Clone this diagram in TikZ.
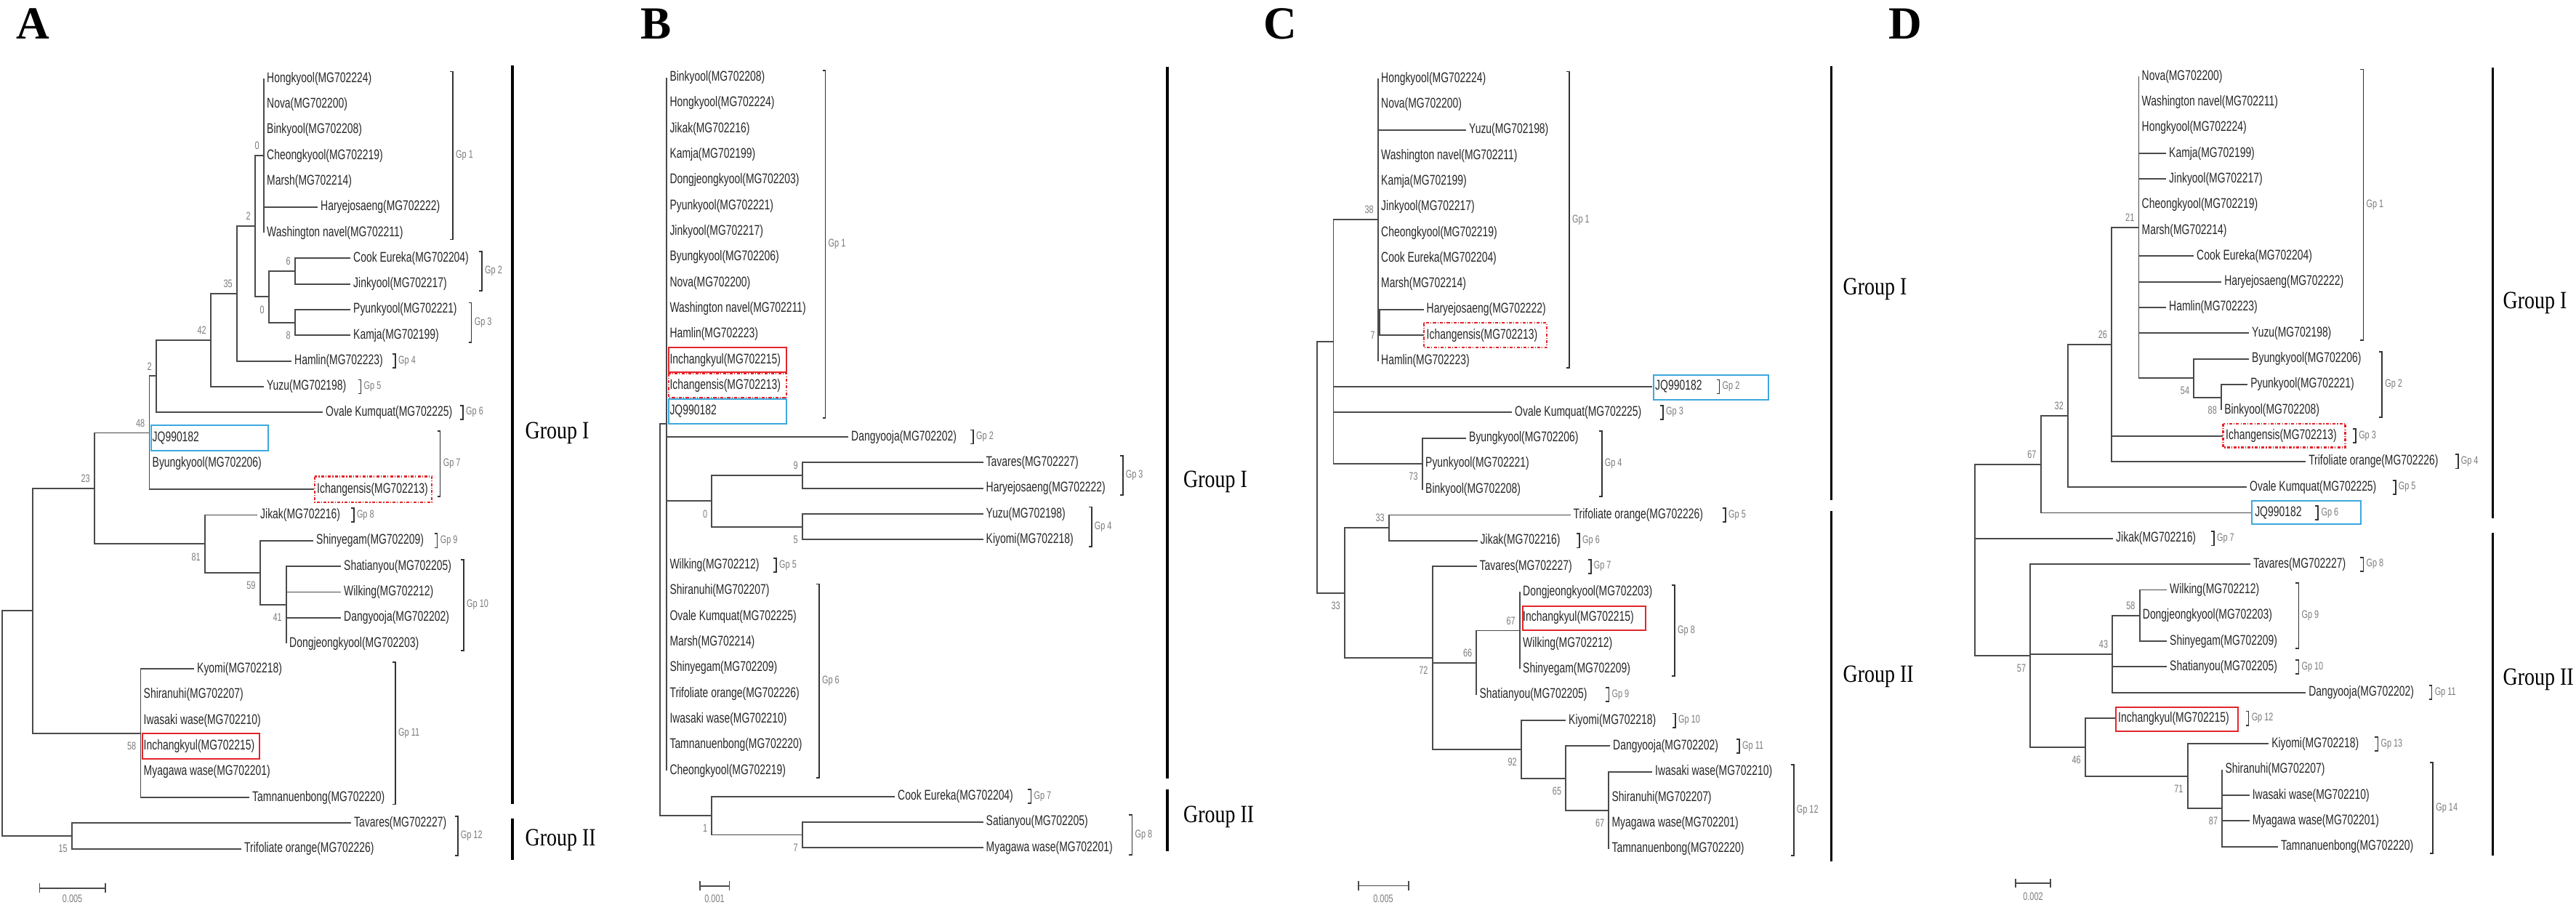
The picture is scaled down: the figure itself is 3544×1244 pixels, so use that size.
\documentclass[tikz,border=0pt]{standalone}
\usepackage{fontspec}
\newfontfamily\taxfont[FakeStretch=0.72]{Liberation Sans}
\newfontfamily\grpfont[FakeStretch=0.82]{Liberation Serif}
\newfontfamily\panelfont{Liberation Serif}
\definecolor{brgray}{HTML}{4A4A4A}
\definecolor{txgray}{HTML}{262626}
\definecolor{bsgray}{HTML}{7A7A7A}
\definecolor{brkgray}{HTML}{333333}
\definecolor{boxblue}{HTML}{3CA8DF}
\definecolor{boxred}{HTML}{E3262B}
% bracket with its Gp label: name, x, first row, last row, text
\newcommand{\gpbr}[5]{%
  \draw[brk] (#2-4,#3-.27) -- (#2,#3-.27) -- (#2,#4+.27) -- (#2-4,#4+.27);
  \node[gp] (#1) at (#2,{(#3+#4)/2}) {#5};}
\begin{document}
\begin{tikzpicture}[x=0.01cm,y=-0.01cm,
  br/.style={draw=brgray,line width=0.55pt},
  tx/.style={anchor=west,inner xsep=1pt,inner ysep=0pt,text=txgray,font=\taxfont\fontsize{5.5}{6}\selectfont},
  bs/.style={inner sep=1pt,text=bsgray,font=\taxfont\fontsize{4.3}{5}\selectfont},
  bsa/.style={bs,anchor=south east,xshift=-0.02cm,yshift=0.04cm},
  bsb/.style={bs,anchor=north east,xshift=-0.02cm,yshift=-0.08cm},
  gp/.style={anchor=west,inner sep=1pt,text=bsgray,font=\taxfont\fontsize{4.3}{5}\selectfont},
  brk/.style={draw=brkgray,line width=0.5pt},
  gline/.style={draw=black,line width=1pt},
  grp/.style={anchor=west,inner sep=0pt,font=\grpfont\fontsize{9.7}{11}\selectfont},
  panel/.style={inner sep=0pt,font=\panelfont\bfseries\fontsize{18}{20}\selectfont},
  redbox/.style={draw=boxred,line width=0.6pt},
  bluebox/.style={draw=boxblue,line width=0.6pt},
  dashbox/.style={draw=boxred,line width=0.6pt,dash pattern=on 1.2pt off 0.6pt on 0.3pt off 0.6pt},
  scb/.style={draw=brgray,line width=0.5pt},
  scl/.style={inner sep=0pt,text=bsgray,font=\taxfont\fontsize{4.3}{5}\selectfont}]
\useasboundingbox (0,0) rectangle (3544,1244);
\node[panel] (pA) at (45,33) {A};
\node[panel] (pB) at (903,33) {B};
\node[panel] (pC) at (1761,33) {C};
\node[panel] (pD) at (2621,33) {D};

% A
\begin{scope}[shift={(0cm,-1.08cm)},y=-0.353cm]
\foreach \rw/\xx/\lab in {0/363/Hongkyool(MG702224),1/363/Nova(MG702200),2/363/Binkyool(MG702208),3/363/Cheongkyool(MG702219),4/363/Marsh(MG702214),5/437/Haryejosaeng(MG702222),6/363/Washington navel(MG702211),7/482/Cook Eureka(MG702204),8/482/Jinkyool(MG702217),9/482/Pyunkyool(MG702221),10/482/Kamja(MG702199),11/401/Hamlin(MG702223),12/363/Yuzu(MG702198),13/444/Ovale Kumquat(MG702225),14/205.5/JQ990182,15/205.5/Byungkyool(MG702206),16/432/Ichangensis(MG702213),17/354/Jikak(MG702216),18/431/Shinyegam(MG702209),19/469/Shatianyou(MG702205),20/469/Wilking(MG702212),21/469/Dangyooja(MG702202),22/394/Dongjeongkyool(MG702203),23/267/Kyomi(MG702218),24/193.5/Shiranuhi(MG702207),25/193.5/Iwasaki wase(MG702210),26/193.5/Inchangkyul(MG702215),27/193.5/Myagawa wase(MG702201),28/343/Tamnanuenbong(MG702220),29/483/Tavares(MG702227),30/332/Trifoliate orange(MG702226)}
  \node[tx] (a\rw) at (\xx,\rw) {\lab};
\foreach \pa/\xx/\rw in {N0/363/3,N6/406/7.5,N8/406/9.5,N0b/370/8.5,N2b/351/5.75,N35/326/8.375,N42/290/10.19,N2/215/11.59,N48/205.5/13.8,N41/394/20.5,N59/357.6/19.25,N81/282/18.125,N23/130/15.96,N58/193.5/25.5,Nu/45/20.73,N15/99/29.5,R/3/25.12}
  \coordinate (a\pa) at (\xx,\rw);
\foreach \ch in {0,...,6} \draw[br] (aN0) |- (a\ch);
\foreach \pa/\ch in {aN6/a7,aN6/a8,aN8/a9,aN8/a10,aN0b/aN6,aN0b/aN8,aN2b/aN0,aN2b/aN0b,aN35/aN2b,aN35/a11,aN42/aN35,aN42/a12,aN2/aN42,aN2/a13,aN48/aN2,aN48/a14,aN48/a15,aN48/a16,aN41/a19,aN41/a20,aN41/a21,aN41/a22,aN59/a18,aN59/aN41,aN81/a17,aN81/aN59,aN23/aN48,aN23/aN81,aN58/a23,aN58/a24,aN58/a25,aN58/a26,aN58/a27,aN58/a28,aNu/aN23,aNu/aN58,aN15/a29,aN15/a30,aR/aNu,aR/aN15}
  \draw[br] (\pa) |- (\ch);
\foreach \pa/\lab in {N0/0,N6/6,N2b/2,N35/35,N42/42,N2/2,N48/48,N23/23}
  \node[bsa] (aB\pa) at (a\pa) {\lab};
\foreach \pa/\lab in {N8/8,N0b/0,N41/41,N59/59,N81/81,N58/58,N15/15}
  \node[bsb] (aB\pa) at (a\pa) {\lab};
\draw[bluebox] (a14.west) ++(2.3,-.5) rectangle ++(161,1);
\draw[dashbox] (a16.west) ++(1,-.5) rectangle ++(161,1);
\draw[redbox] (a26.west) ++(2.5,-.5) rectangle ++(161,1);
\foreach \xx/\ra/\rb/\gn in {623/0/6/1,663/7/8/2,648.6/9/10/3,544/11/11/4,496.5/12/12/5,637/13/13/6,605.6/14/16/7,486.8/17/17/8,601.6/18/18/9,638/19/22/10,544/23/28/11,629.7/29/30/12}
  {\gpbr{aG\gn}{\xx}{\ra}{\rb}{Gp \gn}}
\draw[gline] (705,-.51) -- (705,28.24);
\draw[gline] (705,28.81) -- (705,30.43);
\node[grp] (aGI) at (722,13.8) {Group I};
\node[grp] (aGII) at (722,29.67) {Group II};
\draw[scb] (54.5,31.35) -- (54.5,31.7) (54.5,31.53) -- (144.7,31.53) (144.7,31.35) -- (144.7,31.7);
\node[scl] (aS) at (99.6,31.95) {0.005};
\end{scope}

% B
\begin{scope}[shift={(0cm,-1.065cm)},y=-0.353cm]
\foreach \rw/\xx/\lab in {0/917.3/Binkyool(MG702208),1/917.3/Hongkyool(MG702224),2/917.3/Jikak(MG702216),3/917.3/Kamja(MG702199),4/917.3/Dongjeongkyool(MG702203),5/917.3/Pyunkyool(MG702221),6/917.3/Jinkyool(MG702217),7/917.3/Byungkyool(MG702206),8/917.3/Nova(MG702200),9/917.3/Washington navel(MG702211),10/917.3/Hamlin(MG702223),11/917.3/Inchangkyul(MG702215),12/917.3/Ichangensis(MG702213),13/917.3/JQ990182,14/1167/Dangyooja(MG702202),15/1352.5/Tavares(MG702227),16/1352.5/Haryejosaeng(MG702222),17/1352.5/Yuzu(MG702198),18/1352.5/Kiyomi(MG702218),19/917.3/Wilking(MG702212),20/917.3/Shiranuhi(MG702207),21/917.3/Ovale Kumquat(MG702225),22/917.3/Marsh(MG702214),23/917.3/Shinyegam(MG702209),24/917.3/Trifoliate orange(MG702226),25/917.3/Iwasaki wase(MG702210),26/917.3/Tamnanuenbong(MG702220),27/917.3/Cheongkyool(MG702219),28/1231/Cook Eureka(MG702204),29/1352.5/Satianyou(MG702205),30/1352.5/Myagawa wase(MG702201)}
  \node[tx] (b\rw) at (\xx,\rw) {\lab};
\foreach \pa/\xx/\rw in {NP/917.3/13.5,N9/1103.9/15.5,N5/1103.9/17.5,N0/979.3/16.5,N7/1103.9/29.5,N1/979.3/28.75,R/907.6/21.125}
  \coordinate (b\pa) at (\xx,\rw);
\foreach \ch in {0,...,14} \draw[br] (bNP) |- (b\ch);
\foreach \ch in {19,...,27} \draw[br] (bNP) |- (b\ch);
\foreach \pa/\ch in {bNP/bN0,bN9/b15,bN9/b16,bN5/b17,bN5/b18,bN0/bN9,bN0/bN5,bN7/b29,bN7/b30,bN1/b28,bN1/bN7,bR/bNP,bR/bN1}
  \draw[br] (\pa) |- (\ch);
\node[bsa] (bBN9) at (bN9) {9};
\foreach \pa/\lab in {N0/0,N5/5,N1/1,N7/7}
  \node[bsb] (bB\pa) at (b\pa) {\lab};
\draw[redbox] (b11.west) ++(3,-.48) rectangle ++(162,.96);
\draw[dashbox] (b12.west) ++(3,-.48) rectangle ++(162,.96);
\draw[bluebox] (b13.west) ++(3,-.48) rectangle ++(162,.96);
\foreach \xx/\ra/\rb/\gn in {1135.5/0/13/1,1339/14/14/2,1544.7/15/16/3,1501.7/17/18/4,1068/19/19/5,1126.8/20/27/6,1418.4/28/28/7,1557.4/29/30/8}
  {\gpbr{bG\gn}{\xx}{\ra}{\rb}{Gp \gn}}
\draw[gline] (1606,-.41) -- (1606,27.3);
\draw[gline] (1606,27.74) -- (1606,30.13);
\node[grp] (bGI) at (1627.4,15.75) {Group I};
\node[grp] (bGII) at (1627.4,28.8) {Group II};
\draw[scb] (963.2,31.31) -- (963.2,31.66) (963.2,31.49) -- (1003.4,31.49) (1003.4,31.31) -- (1003.4,31.66);
\node[scl] (bS) at (983,31.98) {0.001};
\end{scope}

% C
\begin{scope}[shift={(0cm,-1.08cm)},y=-0.353cm]
\foreach \rw/\xx/\lab in {0/1896/Hongkyool(MG702224),1/1896/Nova(MG702200),2/2017/Yuzu(MG702198),3/1896/Washington navel(MG702211),4/1896/Kamja(MG702199),5/1896/Jinkyool(MG702217),6/1896/Cheongkyool(MG702219),7/1896/Cook Eureka(MG702204),8/1896/Marsh(MG702214),9/1958.5/Haryejosaeng(MG702222),10/1958.5/Ichangensis(MG702213),11/1896/Hamlin(MG702223),12/2273/JQ990182,13/2080/Ovale Kumquat(MG702225),14/2017/Byungkyool(MG702206),15/1957/Pyunkyool(MG702221),16/1957/Binkyool(MG702208),17/2160.5/Trifoliate orange(MG702226),18/2032.5/Jikak(MG702216),19/2031.5/Tavares(MG702227),20/2091/Dongjeongkyool(MG702203),21/2091/Inchangkyul(MG702215),22/2091/Wilking(MG702212),23/2091/Shinyegam(MG702209),24/2031.4/Shatianyou(MG702205),25/2154/Kiyomi(MG702218),26/2215/Dangyooja(MG702202),27/2273/Iwasaki wase(MG702210),28/2213.4/Shiranuhi(MG702207),29/2213.4/Myagawa wase(MG702201),30/2213.4/Tamnanuenbong(MG702220)}
  \node[tx] (c\rw) at (\xx,\rw) {\lab};
\foreach \pa/\xx/\rw in {N38/1896/5.5,N7/1898/9.5,N73/1956.8/15,X/1834.5/10.25,N33a/1910.9/17.5,N67/2091/21.5,N66/2031.4/22.75,N67b/2213.4/28.5,N65/2154.3/27.25,N92/2092.9/26.125,N72/1970.6/22.56,N33b/1850/20.03,R/1811.6/15.14}
  \coordinate (c\pa) at (\xx,\rw);
\foreach \ch in {0,...,8} \draw[br] (cN38) |- (c\ch);
\foreach \pa/\ch in {cN38/cN7,cN38/c11,cN7/c9,cN7/c10,cN73/c14,cN73/c15,cN73/c16,cX/cN38,cX/c12,cX/c13,cX/cN73,cN33a/c17,cN33a/c18,cN67/c20,cN67/c21,cN67/c22,cN67/c23,cN66/cN67,cN66/c24,cN67b/c27,cN67b/c28,cN67b/c29,cN67b/c30,cN65/c26,cN65/cN67b,cN92/c25,cN92/cN65,cN72/c19,cN72/cN66,cN72/cN92,cN33b/cN33a,cN33b/cN72,cR/cX,cR/cN33b}
  \draw[br] (\pa) |- (\ch);
\foreach \pa/\lab in {N38/38,N33a/33,N67/67,N66/66}
  \node[bsa] (cB\pa) at (c\pa) {\lab};
\foreach \pa/\lab in {N7/7,N73/73,N72/72,N92/92,N65/65,N67b/67,N33b/33}
  \node[bsb] (cB\pa) at (c\pa) {\lab};
\draw[dashbox] (c10.west) ++(.5,-.48) rectangle ++(169,.96);
\draw[bluebox] (c12.west) ++(2,-.45) rectangle ++(158,.95);
\draw[redbox] (c21.west) ++(3.6,-.45) rectangle ++(169,.93);
\foreach \xx/\ra/\rb/\gn in {2158.9/0/11/1,2365.5/12/12/2,2288/13/13/3,2203.6/14/16/4,2374/17/17/5,2173/18/18/6,2188.7/19/19/7,2304/20/23/8,2213.4/24/24/9,2305/25/25/10,2393/26/26/11,2467.7/27/30/12}
  {\gpbr{cG\gn}{\xx}{\ra}{\rb}{Gp \gn}}
\draw[gline] (2519.4,-.47) -- (2519.4,16.41);
\draw[gline] (2519.4,16.85) -- (2519.4,30.48);
\node[grp] (cGI) at (2535,8.2) {Group I};
\node[grp] (cGII) at (2535,23.3) {Group II};
\draw[scb] (1869,31.26) -- (1869,31.61) (1869,31.44) -- (1937.9,31.44) (1937.9,31.26) -- (1937.9,31.61);
\node[scl] (cS) at (1903,31.93) {0.005};
\end{scope}

% D
\begin{scope}[shift={(0cm,-1.05cm)},y=-0.353cm]
\foreach \rw/\xx/\lab in {0/2942.5/Nova(MG702200),1/2942.5/Washington navel(MG702211),2/2942.5/Hongkyool(MG702224),3/2980/Kamja(MG702199),4/2980/Jinkyool(MG702217),5/2942.5/Cheongkyool(MG702219),6/2942.5/Marsh(MG702214),7/3018/Cook Eureka(MG702204),8/3056/Haryejosaeng(MG702222),9/2980/Hamlin(MG702223),10/3094/Yuzu(MG702198),11/3094/Byungkyool(MG702206),12/3092/Pyunkyool(MG702221),13/3056/Binkyool(MG702208),14/3058/Ichangensis(MG702213),15/3172/Trifoliate orange(MG702226),16/3091/Ovale Kumquat(MG702225),17/3098/JQ990182,18/2907/Jikak(MG702216),19/3096/Tavares(MG702227),20/2981/Wilking(MG702212),21/2943.7/Dongjeongkyool(MG702203),22/2981/Shinyegam(MG702209),23/2981/Shatianyou(MG702205),24/3172/Dangyooja(MG702202),25/2910/Inchangkyul(MG702215),26/3121/Kiyomi(MG702218),27/3057.3/Shiranuhi(MG702207),28/3094.6/Iwasaki wase(MG702210),29/3094.6/Myagawa wase(MG702201),30/3134/Tamnanuenbong(MG702220)}
  \node[tx] (d\rw) at (\xx,\rw) {\lab};
\foreach \pa/\xx/\rw in {N88/3056/12.5,N54/3018.3/11.75,N21/2942.5/5.875,N26/2905.2/10.44,N32/2845/13.22,N67/2807.6/15.11,N58/2943.7/21,N43/2906.3/22.5,N87/3057.3/28.5,N71/3009.7/27.25,N46/2869/26.125,N57/2793.3/22.56,R/2716.9/18.84}
  \coordinate (d\pa) at (\xx,\rw);
\foreach \ch in {0,...,10} \draw[br] (dN21) |- (d\ch);
\foreach \pa/\ch in {dN21/dN54,dN54/d11,dN54/dN88,dN88/d12,dN88/d13,dN26/dN21,dN26/d14,dN26/d15,dN32/dN26,dN32/d16,dN67/dN32,dN67/d17,dN58/d20,dN58/d21,dN58/d22,dN43/dN58,dN43/d23,dN43/d24,dN87/d27,dN87/d28,dN87/d29,dN87/d30,dN71/d26,dN71/dN87,dN46/d25,dN46/dN71,dN57/d19,dN57/dN43,dN57/dN46,dR/dN67,dR/d18,dR/dN57}
  \draw[br] (\pa) |- (\ch);
\foreach \pa/\lab in {N21/21,N26/26,N32/32,N67/67,N58/58,N43/43}
  \node[bsa] (dB\pa) at (d\pa) {\lab};
\foreach \pa/\lab in {N54/54,N88/88,N87/87,N71/71,N46/46,N57/57}
  \node[bsb] (dB\pa) at (d\pa) {\lab};
\draw[dashbox] (d14.west) ++(.5,-.48) rectangle ++(168,.93);
\draw[bluebox] (d17.west) ++(0,-.46) rectangle ++(150,.9);
\draw[redbox] (d25.west) ++(1,-.43) rectangle ++(168,.93);
\foreach \xx/\ra/\rb/\gn in {3251.4/0/10/1,3277.2/11/13/2,3241/14/14/3,3381.7/15/15/4,3295.6/16/16/5,3189.3/17/17/6,3045.8/18/18/7,3251.4/19/19/8,3162.4/20/22/9,3162.4/23/23/10,3345.5/24/24/11,3093.5/25/25/12,3271.4/26/26/13,3347.2/27/30/14}
  {\gpbr{dG\gn}{\xx}{\ra}{\rb}{Gp \gn}}
\draw[gline] (3429.3,-.34) -- (3429.3,17.2);
\draw[gline] (3429.3,17.77) -- (3429.3,30.34);
\node[grp] (dGI) at (3443,8.84) {Group I};
\node[grp] (dGII) at (3443,23.5) {Group II};
\draw[scb] (2773,31.25) -- (2773,31.6) (2773,31.43) -- (2820.8,31.43) (2820.8,31.25) -- (2820.8,31.6);
\node[scl] (dS) at (2797,31.94) {0.002};
\end{scope}
\end{tikzpicture}
\end{document}
